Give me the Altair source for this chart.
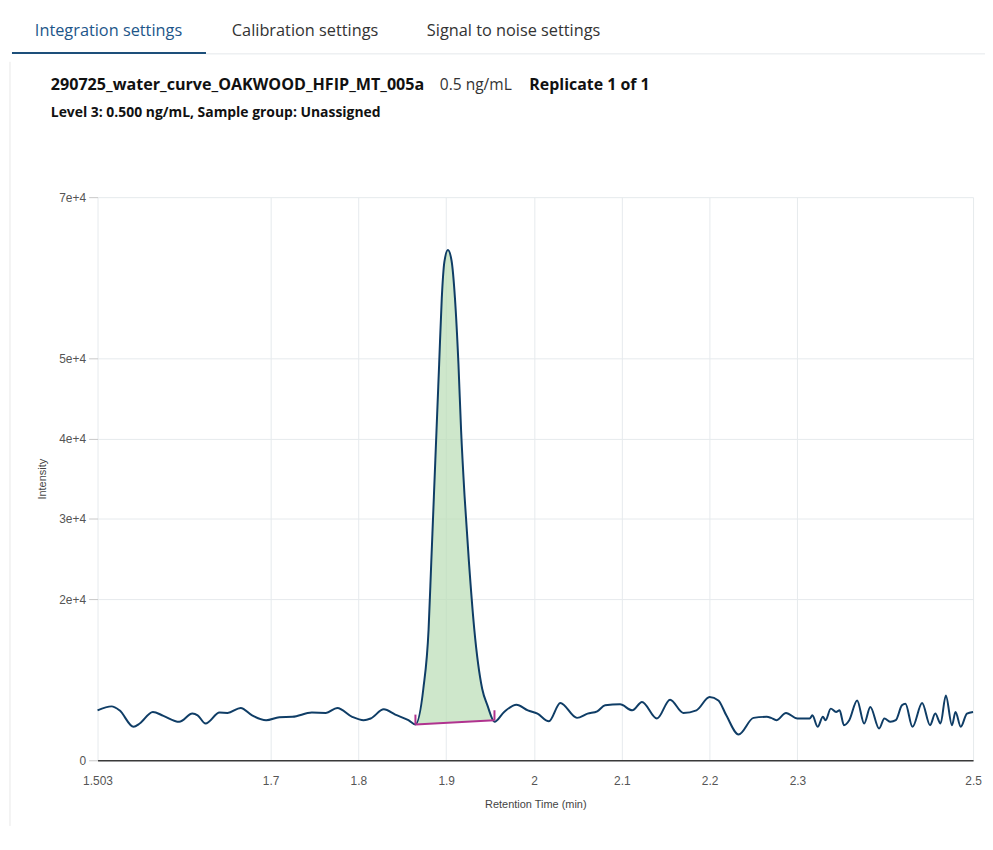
import altair as alt
import pandas as pd

# ---------------- text content ----------------
tabs = ["Integration settings", "Calibration settings", "Signal to noise settings"]
sample_name = "290725_water_curve_OAKWOOD_HFIP_MT_005a"
concentration = "0.5 ng/mL"
replicate = "Replicate 1 of 1"
level_info = "Level 3: 0.500 ng/mL, Sample group: Unassigned"

# ---------------- axes ----------------
x_ticks = [1.503, 1.7, 1.8, 1.9, 2.0, 2.1, 2.2, 2.3, 2.5]
y_ticks = [0, 20000, 30000, 40000, 50000, 70000]
x_domain = [1.503, 2.5]
y_domain = [0, 70000]

# ---------------- chromatogram trace ----------------
rt = [1.503, 1.519, 1.528, 1.544, 1.551, 1.566, 1.578, 1.596, 1.611, 1.617,
      1.626, 1.642, 1.651, 1.666, 1.679, 1.695, 1.710, 1.725, 1.747, 1.763,
      1.776, 1.793, 1.806, 1.814, 1.829, 1.842, 1.857, 1.865,
      1.874, 1.880, 1.883, 1.886, 1.889, 1.892, 1.895, 1.898, 1.902, 1.906,
      1.910, 1.914, 1.917, 1.921, 1.926, 1.932, 1.941, 1.947, 1.955,
      1.966, 1.980, 1.993, 2.004, 2.017, 2.030, 2.049, 2.061, 2.072, 2.081,
      2.098, 2.112, 2.123, 2.140, 2.155, 2.170, 2.185, 2.200, 2.210, 2.219,
      2.233, 2.250, 2.265, 2.270, 2.276, 2.287, 2.300, 2.314, 2.317, 2.323,
      2.329, 2.332, 2.338, 2.344, 2.348, 2.353, 2.359, 2.368, 2.376, 2.383,
      2.393, 2.399, 2.406, 2.412, 2.419, 2.423, 2.431, 2.442, 2.451, 2.457,
      2.463, 2.469, 2.476, 2.480, 2.486, 2.493, 2.500]
intensity = [6210, 6700, 6210, 4160, 4570, 6010, 5520, 4780, 5800, 5590,
             4570, 5930, 5890, 6510, 5590, 4980, 5350, 5400, 5930, 5890,
             6510, 5400, 4980, 5190, 6330, 5680, 4980, 4440,
             8890, 16300, 24530, 32750, 40990, 49220, 57450, 61980, 63420, 62190,
             57450, 49220, 40990, 32750, 24530, 16300, 8890, 6830, 4800,
             6010, 6910, 6210, 5800, 4850, 7120, 5270, 5800, 6090, 6830,
             6950, 6210, 7250, 5190, 7530, 5890, 6210, 7860, 7440, 5590,
             3210, 5270, 5400, 5270, 4980, 5890, 5190, 5190, 5590, 4160,
             5400, 4980, 6420, 6010, 6210, 4360, 4980, 7440, 4570, 6630,
             3950, 5190, 4780, 4980, 6830, 7040, 4160, 7120, 4360, 5800,
             4570, 8060, 4360, 6010, 4160, 5800, 6010]

# integration baseline (start / end of the integrated peak)
baseline_rt = [1.865, 1.955]
baseline_int = [4440, 4980]

trace = pd.DataFrame({"rt": rt, "intensity": intensity})
peak = trace[(trace.rt >= baseline_rt[0]) & (trace.rt <= baseline_rt[1])].copy()
slope = (baseline_int[1] - baseline_int[0]) / (baseline_rt[1] - baseline_rt[0])
peak["base"] = baseline_int[0] + (peak.rt - baseline_rt[0]) * slope
base_seg = pd.DataFrame({"rt": [baseline_rt[0]], "intensity": [baseline_int[0]],
                         "rt2": [baseline_rt[1]], "int2": [baseline_int[1]]})
base_pts = pd.DataFrame({"rt": baseline_rt, "intensity": baseline_int})

NAVY = "#0f3d66"
MAGENTA = "#b0338f"

xscale = alt.Scale(domain=x_domain, nice=False, zero=False)
yscale = alt.Scale(domain=y_domain, nice=False)

X = alt.X("rt:Q", scale=xscale,
          axis=alt.Axis(values=x_ticks, labelExpr="toString(datum.value)",
                        title="Retention Time (min)", labelFlush=False,
                        grid=True, tickSize=0, labelPadding=15, titlePadding=12,
                        domainColor="#3a3a3a", domainWidth=1.5))
Y = alt.Y("intensity:Q", scale=yscale,
          axis=alt.Axis(values=y_ticks, title="Intensity", grid=True, domain=False,
                        labelFlush=False,
                        labelExpr="datum.value == 0 ? '0' : format(datum.value / 10000, 'd') + 'e+4'",
                        tickSize=9, labelPadding=3, titlePadding=11))

area = alt.Chart(peak).mark_area(color="#b9ddb5", opacity=0.7, interpolate="monotone").encode(
    x=X, y=Y, y2="base:Q",
)

line = alt.Chart(trace).mark_line(color=NAVY, strokeWidth=2, interpolate="monotone").encode(
    x=X, y=Y,
)

base_line = alt.Chart(base_seg).mark_rule(color=MAGENTA, strokeWidth=2).encode(
    x=X, y=Y, x2="rt2:Q", y2="int2:Q",
)

base_ticks = alt.Chart(base_pts).mark_rule(color=MAGENTA, strokeWidth=2, y2Offset=-10).encode(
    x=X, y=Y, y2="intensity:Q",
)

ONE = alt.Data(values=[{}])


def label(text, vx, vy, size, weight, color, font="Open Sans"):
    return alt.Chart(ONE).mark_text(
        text=text, align="left", baseline="middle", font=font,
        fontSize=size, fontWeight=weight, color=color,
    ).encode(x=alt.value(vx), y=alt.value(vy))


def hrule(x1, x2, y, color, width):
    return alt.Chart(ONE).mark_rule(color=color, strokeWidth=width).encode(
        x=alt.value(x1), x2=alt.value(x2), y=alt.value(y))


header = [
    hrule(109, 900, -144, "#e4e8eb", 1),
    hrule(-86, 109, -145, "#1d4f7a", 2),
    label(tabs[0], -63, -167, 16.4, "normal", "#1d568a"),
    label(tabs[1], 135, -167, 16.4, "normal", "#333333"),
    label(tabs[2], 331, -167, 16.4, "normal", "#333333"),
    label(sample_name, -47, -113, 16.2, "bold", "#111111"),
    label(concentration, 344, -113, 15.6, "normal", "#333333"),
    label(replicate, 434, -113, 16, "bold", "#111111"),
    label(level_info, -47, -85, 14, "bold", "#111111"),
    alt.Chart(ONE).mark_rule(color="#e8e8e8", strokeWidth=1).encode(
        x=alt.value(-88), y=alt.value(-136), y2=alt.value(632)),
]

chart = alt.layer(area, line, base_line, base_ticks, *header).properties(
    width=880,
    height=566,
    autosize=alt.AutoSizeParams(type="none"),
    padding={"left": 90, "top": 188, "right": 12, "bottom": 75},
).configure_view(strokeWidth=0).configure_axis(
    labelFont="Liberation Sans", labelFontSize=12, labelColor="#555555",
    titleFont="Liberation Sans", titleFontSize=11, titleFontWeight="normal", titleColor="#444444",
    gridColor="#e6eaed", gridWidth=1, tickColor="#c8c8c8",
)

chart.save("out.html", embed_options={"renderer": "svg", "actions": False})
